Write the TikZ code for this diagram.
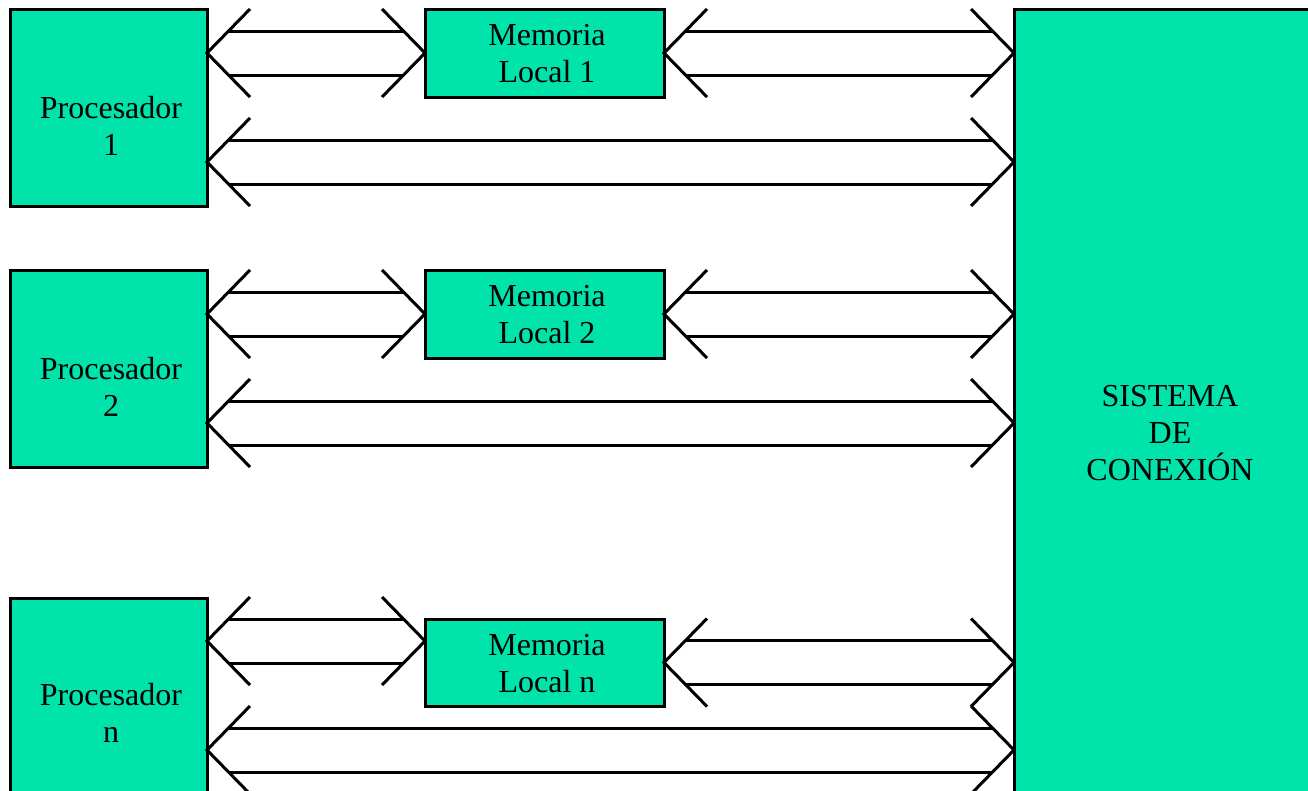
\documentclass[tikz,border=0pt]{standalone}
\usepackage{fontspec}
\setmainfont{Liberation Serif}
\usetikzlibrary{calc}
\definecolor{boxgreen}{RGB}{0,227,170}
\tikzset{
  blk/.style={draw=black, line width=3pt, fill=boxgreen, inner sep=0pt, outer sep=0pt},
  lbl/.style={align=center, font=\fontsize{32}{37}\selectfont, inner sep=0pt, anchor=base},
  bus/.style={draw=black, line width=3pt, line cap=butt, line join=miter},
}
\newcommand\fatarrow[2]{%
  \draw[bus] ($(#1)+(43,-44)$) -- (#1) -- ($(#1)+(43,44)$);
  \draw[bus] ($(#2)+(-43,-44)$) -- (#2) -- ($(#2)+(-43,44)$);
  \draw[bus] ($(#1)+(22,-22)$) -- ($(#2)+(-22,-22)$);
  \draw[bus] ($(#1)+(22,22)$) -- ($(#2)+(-22,22)$);
}
\begin{document}
\begin{tikzpicture}[x=1pt,y=-1pt]
\useasboundingbox (0,0) rectangle (1308,790);
\clip (0,0) rectangle (1308,790);
% boxes
\node[blk, minimum width=197pt, minimum height=197pt] (p1) at (108.5,107.5) {};
\node[blk, minimum width=239pt, minimum height=88pt] (m1) at (544.5,53) {};
\node[blk, minimum width=197pt, minimum height=197pt] (p2) at (108.5,368.5) {};
\node[blk, minimum width=239pt, minimum height=88pt] (m2) at (544.5,314) {};
\node[blk, minimum width=197pt, minimum height=222pt] (pn) at (108.5,709) {};
\node[blk, minimum width=239pt, minimum height=87pt] (mn) at (544.5,662.5) {};
\node[blk, minimum width=316pt, minimum height=811pt] (sys) at (1172,414.5) {};
% labels (anchor base = baseline of last line)
\node[lbl] (t1) at (111,155) {Procesador\\1};
\node[lbl] (t2) at (111,416) {Procesador\\2};
\node[lbl] (tn) at (111,742) {Procesador\\n};
\node[lbl] (u1) at (547,82) {Memoria\\Local 1};
\node[lbl] (u2) at (547,343) {Memoria\\Local 2};
\node[lbl] (un) at (547,692) {Memoria\\Local n};
\node[lbl] (ts) at (1170,480) {SISTEMA\\DE\\CONEXIÓN};
% tips
\coordinate (p1m) at ($(p1.north east)+(0,44)$);
\coordinate (m1l) at (m1.west);
\coordinate (m1r) at (m1.east);
\coordinate (s1m) at (sys.west |- m1.east);
\coordinate (p1s) at ($(p1.north east)+(0,153)$);
\coordinate (s1p) at (sys.west |- p1s);
\coordinate (p2m) at ($(p2.north east)+(0,44)$);
\coordinate (m2l) at (m2.west);
\coordinate (m2r) at (m2.east);
\coordinate (s2m) at (sys.west |- m2.east);
\coordinate (p2s) at ($(p2.north east)+(0,153)$);
\coordinate (s2p) at (sys.west |- p2s);
\coordinate (pnm) at ($(pn.north east)+(0,43)$);
\coordinate (mnl) at (mn.west |- pnm);
\coordinate (mnr) at (mn.east);
\coordinate (snm) at (sys.west |- mn.east);
\coordinate (pns) at ($(pn.north east)+(0,152)$);
\coordinate (snp) at (sys.west |- pns);
% buses
\fatarrow{p1m}{m1l}
\fatarrow{m1r}{s1m}
\fatarrow{p1s}{s1p}
\fatarrow{p2m}{m2l}
\fatarrow{m2r}{s2m}
\fatarrow{p2s}{s2p}
\fatarrow{pnm}{mnl}
\fatarrow{mnr}{snm}
\fatarrow{pns}{snp}
\end{tikzpicture}
\end{document}
